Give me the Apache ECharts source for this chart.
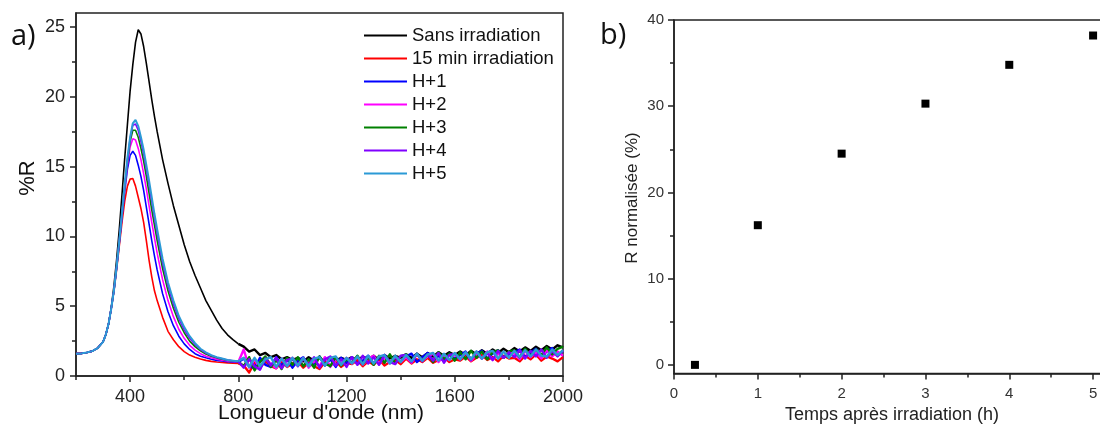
<!DOCTYPE html>
<html>
<head>
<meta charset="utf-8">
<script src="https://cdn.jsdelivr.net/npm/echarts@6/dist/echarts.min.js"></script>
<style>html,body{margin:0;padding:0;background:#fff}#c{width:1100px;height:427px}</style>
</head>
<body>
<div id="c"></div>
<script>
// ---------- Data (a): reflectance spectra ----------
const WAVELENGTH = [200,220,240,260,280,300,310,320,330,340,350,360,370,380,390,400,410,420,430,440,450,460,470,480,490,500,520,540,560,580,600,620,640,660,680,700,720,740,760,780,800,
820,840,860,880,900,920,940,960,980,1000,1020,1040,1060,1080,1100,1120,1140,1160,1180,1200,1220,1240,1260,1280,1300,1320,1340,1360,1380,1400,1420,1440,1460,1480,1500,1520,1540,1560,1580,1600,1620,1640,1660,1680,1700,1720,1740,1760,1780,1800,1820,1840,1860,1880,1900,1920,1940,1960,1980,2000];
const DETECTOR_SWITCH_NM = 800; // the noisy NIR detector range starts here

const SANS_IRRADIATION = [1.6,1.62,1.68,1.78,2.0,2.45,2.95,3.7,4.85,6.4,8.3,10.5,13.0,15.6,18.0,20.4,22.3,23.9,24.8,24.5,23.6,22.4,21.1,19.8,18.6,17.5,15.5,13.8,12.2,10.8,9.4,8.2,7.2,6.3,5.4,4.7,4.0,3.4,2.95,2.6,2.3,
2.1,1.75,1.9,1.5,1.65,1.35,1.5,1.2,1.35,1.15, 1.3,1.05,1.35,1.1,1.3,1.0,1.35,1.1,1.3,1.15, 1.35,1.1,1.4,1.2,1.45,1.15,1.5,1.25,1.45,1.3, 1.55,1.3,1.6,1.35,1.65,1.4,1.7,1.45,1.7,1.5, 1.75,1.5,1.8,1.55,1.85,1.6,1.9,1.65,1.95,1.7, 2.0,1.75,2.05,1.8,2.1,1.85,2.15,1.9,2.2,2.05];

const MIN15_IRRADIATION = [1.6,1.62,1.68,1.78,2.0,2.45,2.95,3.7,4.8,6.05,7.6,9.3,11.0,12.5,13.6,14.1,14.15,13.6,12.8,12.0,11.0,9.7,8.3,7.1,6.1,5.4,4.2,3.2,2.6,2.1,1.75,1.5,1.35,1.22,1.12,1.05,1.0,0.97,0.94,0.92,0.9,
0.75,0.25,0.95,0.6,1.05,0.7,0.55,1.0,0.65,0.9, 1.05,0.6,0.95,0.7,0.5,1.0,0.75,1.1,0.65,0.95, 0.85,1.15,0.7,1.05,0.8,1.2,0.75,1.0,1.15,0.85, 1.25,0.9,1.2,1.0,1.3,0.95,1.15,1.35,1.0,1.2, 1.1,1.4,1.05,1.3,1.5,1.15,1.35,1.05,1.45,1.25, 1.3,1.05,1.45,1.2,1.55,1.1,1.4,1.25,1.05,1.35];

const H1 = [1.6,1.62,1.68,1.78,2.0,2.45,2.95,3.7,4.8,6.1,7.7,9.5,11.4,13.2,14.8,15.8,16.1,15.8,15.1,14.3,13.3,12.1,10.9,9.7,8.6,7.6,5.9,4.6,3.6,2.85,2.3,1.9,1.6,1.42,1.3,1.2,1.12,1.07,1.03,1.0,0.98,
1.25,0.7,0.55,1.3,0.8,0.65,1.35,0.75,1.2,0.6, 1.1,1.35,0.7,0.9,1.4,0.75,1.2,0.65,1.3,0.95, 1.35,0.85,1.1,1.45,0.9,1.25,1.5,0.95,1.3,1.05, 1.4,1.6,1.0,1.35,1.65,1.1,1.45,1.05,1.6,1.25, 1.5,1.75,1.2,1.55,1.8,1.25,1.6,1.85,1.3,1.55, 1.7,1.9,1.35,1.65,1.95,1.4,1.75,2.0,1.45,1.8];

const H2 = [1.6,1.62,1.68,1.78,2.0,2.45,2.95,3.7,4.8,6.1,7.75,9.6,11.5,13.4,15.1,16.4,17.0,16.9,16.3,15.5,14.5,13.4,12.2,11.0,9.9,8.8,6.9,5.4,4.25,3.35,2.7,2.2,1.85,1.6,1.42,1.3,1.2,1.13,1.08,1.04,1.0,
1.9,0.6,1.2,0.5,1.3,0.85,0.55,1.25,0.7,1.3, 0.75,1.3,0.6,1.1,0.7,1.35,0.65,1.2,0.85,1.3, 0.9,1.4,0.8,1.25,1.45,0.85,1.3,0.9,1.4,1.0, 1.35,0.95,1.55,1.1,1.4,1.6,1.0,1.45,1.15,1.55, 1.2,1.65,1.1,1.55,1.25,1.75,1.15,1.6,1.3,1.7, 1.6,1.2,1.8,1.35,1.7,1.25,1.85,1.4,1.75,1.45];

const H3 = [1.6,1.62,1.68,1.78,2.0,2.45,2.95,3.7,4.8,6.1,7.8,9.65,11.6,13.5,15.3,16.8,17.6,17.6,17.1,16.3,15.4,14.3,13.1,11.9,10.8,9.7,7.7,6.1,4.85,3.85,3.1,2.5,2.1,1.8,1.58,1.42,1.3,1.21,1.13,1.08,1.03,
0.7,1.35,0.4,1.0,1.4,0.65,1.15,0.5,1.3,0.8, 1.35,0.7,1.2,0.6,1.4,0.9,0.7,1.35,0.75,1.2, 0.95,1.45,0.85,1.35,0.8,1.45,0.95,1.55,0.9,1.4, 1.55,1.05,1.6,1.1,1.55,1.0,1.7,1.2,1.6,1.1, 1.7,1.2,1.8,1.3,1.75,1.2,1.7,1.85,1.3,1.75, 1.85,1.35,1.95,1.45,1.9,1.5,2.05,1.55,1.95,2.1];

const H4 = [1.6,1.62,1.68,1.78,2.0,2.45,2.95,3.7,4.8,6.1,7.8,9.7,11.65,13.6,15.45,17.0,17.95,18.05,17.6,16.8,15.9,14.8,13.7,12.5,11.3,10.2,8.1,6.45,5.15,4.1,3.3,2.7,2.25,1.9,1.65,1.47,1.33,1.23,1.14,1.09,1.04,
0.6,1.2,0.7,0.45,1.25,0.75,1.3,0.55,1.15,1.25, 0.7,1.25,0.8,1.35,0.6,1.2,1.4,0.75,1.2,0.65, 1.35,0.8,1.45,0.9,1.35,0.8,1.5,1.0,0.85,1.45, 1.5,1.0,1.6,1.05,1.55,1.1,1.65,0.95,1.5,1.6, 1.2,1.7,1.15,1.75,1.25,1.65,1.15,1.8,1.3,1.7, 1.35,1.85,1.25,1.8,1.4,1.9,1.3,1.8,1.4,1.85];

const H5 = [1.6,1.62,1.68,1.78,2.0,2.45,2.95,3.7,4.8,6.1,7.8,9.7,11.7,13.7,15.6,17.1,18.1,18.35,17.9,17.1,16.2,15.1,14.0,12.8,11.6,10.5,8.4,6.7,5.4,4.3,3.5,2.85,2.35,1.95,1.7,1.5,1.35,1.25,1.15,1.1,1.05,
1.3,0.65,1.3,0.7,1.2,1.35,0.65,1.25,0.7,1.3, 0.75,1.3,0.7,1.25,1.35,0.75,1.3,1.4,0.8,1.3, 0.9,1.4,0.85,1.45,0.9,1.4,1.5,0.9,1.45,1.0, 1.5,1.05,1.6,1.1,1.55,1.65,1.1,1.6,1.15,1.65, 1.2,1.7,1.2,1.75,1.25,1.7,1.8,1.25,1.75,1.3, 1.8,1.35,1.85,1.4,1.9,1.45,1.4,1.9,1.5,1.85];

const SERIES_NAMES = ['Sans irradiation','15 min irradiation','H+1','H+2','H+3','H+4','H+5'];
const SERIES_VALUES = [SANS_IRRADIATION, MIN15_IRRADIATION, H1, H2, H3, H4, H5];
const SERIES_COLORS = ['#000000','#ff0000','#0000ff','#ff00ff','#008000','#8000ff','#2b9ad6'];

const A_X_MAJOR = [400,800,1200,1600,2000];
const A_X_MINOR = [200,600,1000,1400,1800];
const A_Y_MAJOR = [0,5,10,15,20,25];
const A_Y_MINOR = [2.5,7.5,12.5,17.5,22.5];

// ---------- Data (b): normalised R vs time ----------
const HOURS = [0.25,1,2,3,4,5];
const R_NORM = [0,16.2,24.5,30.3,34.8,38.2];
const B_X_MAJOR = [0,1,2,3,4,5];
const B_X_MINOR = [0.5,1.5,2.5,3.5,4.5];
const B_Y_MAJOR = [0,10,20,30,40];
const B_Y_MINOR = [5,15,25,35];

const FONT = "'Liberation Sans', Arial, sans-serif";
const AX = '#222';

function majorAxis(grid, min, max, major, lab) {
  return {
    gridIndex: grid, type: 'value', min: min, max: max,
    axisLine: {show: true, onZero: false, lineStyle: {color: AX, width: 1.5}},
    axisTick: {show: true, inside: false, length: 6, customValues: major, lineStyle: {color: AX, width: 1.5}},
    axisLabel: Object.assign({customValues: major, fontFamily: FONT, color: AX, formatter: v => String(v)}, lab),
    splitLine: {show: false}
  };
}
function minorAxis(grid, min, max, minor, pos) {
  return {
    gridIndex: grid, type: 'value', min: min, max: max, position: pos,
    axisLine: {show: false, onZero: false},
    axisTick: {show: true, inside: false, length: 4, customValues: minor, lineStyle: {color: AX, width: 1.5}},
    axisLabel: {show: false},
    splitLine: {show: false}
  };
}

const lineSeries = [];
SERIES_NAMES.forEach((name, k) => {
  const pts = WAVELENGTH.map((x, i) => [x, SERIES_VALUES[k][i]]);
  // UV-Vis part (smooth)
  lineSeries.push({
    name: name, type: 'line', xAxisIndex: 0, yAxisIndex: 0,
    showSymbol: false, symbol: 'none', color: SERIES_COLORS[k],
    lineStyle: {width: k === 6 ? 2 : 1.6, color: SERIES_COLORS[k]},
    data: pts.filter(p => p[0] <= DETECTOR_SWITCH_NM), z: 2 + k
  });
  // NIR part (noisy) – same legend entry
  lineSeries.push({
    name: name, type: 'line', xAxisIndex: 0, yAxisIndex: 0,
    showSymbol: false, symbol: 'none', color: SERIES_COLORS[k],
    lineStyle: {width: 2.4, color: SERIES_COLORS[k], join: 'round'},
    data: pts.filter(p => p[0] >= DETECTOR_SWITCH_NM), z: 2 + k
  });
});

const option = {
  animation: false,
  backgroundColor: '#ffffff',
  grid: [
    {left: 76, top: 13, width: 487, height: 363, show: true, borderColor: AX, borderWidth: 1.5, outerBoundsMode: 'none', containLabel: false},
    {left: 674, top: 20, width: 461, height: 353.5, show: true, borderColor: AX, borderWidth: 1.5, outerBoundsMode: 'none', containLabel: false}
  ],
  xAxis: [
    majorAxis(0, 200, 2000, A_X_MAJOR, {fontSize: 18, margin: 12}),
    minorAxis(0, 200, 2000, A_X_MINOR, 'bottom'),
    majorAxis(1, 0, 5.5, B_X_MAJOR, {fontSize: 15, margin: 13, color: '#333'}),
    minorAxis(1, 0, 5.5, B_X_MINOR, 'bottom')
  ],
  yAxis: [
    majorAxis(0, 0, 26, A_Y_MAJOR, {fontSize: 18, margin: 11}),
    minorAxis(0, 0, 26, A_Y_MINOR, 'left'),
    majorAxis(1, -1, 40, B_Y_MAJOR, {fontSize: 15, margin: 10, color: '#333'}),
    minorAxis(1, -1, 40, B_Y_MINOR, 'left')
  ],
  legend: {
    orient: 'vertical', left: 364, top: 26,
    data: SERIES_NAMES,
    icon: 'rect', itemWidth: 43, itemHeight: 2, itemGap: 4,
    textStyle: {fontFamily: FONT, fontSize: 18.5, color: '#111', lineHeight: 18, padding: [0, 0, 0, 0]},
    padding: 0
  },
  graphic: [
    {type: 'text', x: 11, y: 37, style: {text: 'a)', font: "29px 'Open Sans', sans-serif", fill: '#111', textAlign: 'left', textVerticalAlign: 'middle'}},
    {type: 'text', x: 600, y: 36, style: {text: 'b)', font: "29px 'Open Sans', sans-serif", fill: '#111', textAlign: 'left', textVerticalAlign: 'middle'}},
    {type: 'text', x: 28, y: 178, rotation: Math.PI / 2, style: {text: '%R', font: "22px " + FONT, fill: '#111', textAlign: 'center', textVerticalAlign: 'middle'}},
    {type: 'text', x: 321, y: 413, style: {text: "Longueur d'onde (nm)", font: "21px " + FONT, fill: '#111', textAlign: 'center', textVerticalAlign: 'middle'}},
    {type: 'text', x: 632, y: 198, rotation: Math.PI / 2, style: {text: 'R normalisée (%)', font: "17px " + FONT, fill: '#222', textAlign: 'center', textVerticalAlign: 'middle'}},
    {type: 'text', x: 892, y: 415, style: {text: 'Temps après irradiation (h)', font: "18px " + FONT, fill: '#222', textAlign: 'center', textVerticalAlign: 'middle'}}
  ],
  series: lineSeries.concat([{
    name: 'R normalisée', type: 'scatter', xAxisIndex: 2, yAxisIndex: 2,
    symbol: 'rect', symbolSize: 8, itemStyle: {color: '#000', opacity: 1},
    data: HOURS.map((h, i) => [h, R_NORM[i]])
  }])
};

const chart = echarts.init(document.getElementById('c'));
chart.setOption(option);
</script>
</body>
</html>
